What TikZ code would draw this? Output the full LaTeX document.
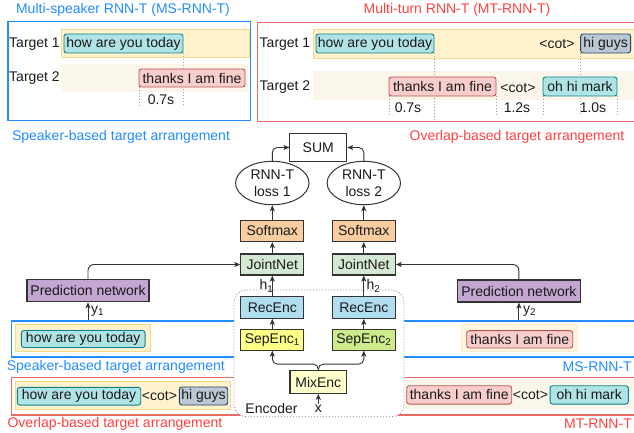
\documentclass[tikz,border=0pt]{standalone}
\usepackage{fontspec}
\setmainfont{Liberation Sans}
\usetikzlibrary{arrows.meta,shapes.geometric}
\definecolor{msblue}{RGB}{34,140,255}
\definecolor{mtred}{RGB}{255,64,64}
\definecolor{mtframe}{RGB}{234,107,102}
\definecolor{txt}{RGB}{26,26,26}
\definecolor{boxline}{RGB}{51,51,51}
\definecolor{bandfill}{HTML}{FFF2CC}
\definecolor{bandline}{HTML}{F3D88E}
\definecolor{bandlight}{HTML}{FAF6EA}
\definecolor{tealfill}{HTML}{B0E3E6}
\definecolor{tealline}{HTML}{0E8088}
\definecolor{redfill}{HTML}{F8CECC}
\definecolor{redline}{HTML}{B85450}
\definecolor{grayfill}{HTML}{BAC8D3}
\definecolor{grayline}{HTML}{23445D}
\definecolor{purplefill}{RGB}{196,166,210}
\definecolor{orangefill}{RGB}{250,205,160}
\definecolor{greenfill}{HTML}{D5E8D4}
\definecolor{bluefill}{HTML}{B1DDF0}
\definecolor{yellowfill}{HTML}{FFFF88}
\definecolor{limefill}{HTML}{CDEB8B}
\definecolor{paleyellow}{HTML}{FFFFCC}
\begin{document}
\begin{tikzpicture}[x=1pt,y=-1pt,
  font=\fontsize{14}{17}\selectfont, text=txt,
  every node/.style={inner sep=1pt},
  frameblue/.style={draw=msblue, line width=1.5pt, inner sep=0pt},
  framered/.style={draw=mtframe, line width=1.5pt, inner sep=0pt},
  bandA/.style={fill=bandfill, draw=bandline, line width=0.8pt, inner sep=0pt},
  bandB/.style={fill=bandlight, inner sep=0pt},
  tealbox/.style={fill=tealfill, draw=tealline, line width=0.9pt, rounded corners=2.5pt, inner sep=0pt},
  redbox/.style={fill=redfill, draw=redline, line width=0.9pt, rounded corners=2.5pt, inner sep=0pt},
  graybox/.style={fill=grayfill, draw=grayline, line width=0.9pt, rounded corners=2.5pt, inner sep=0pt},
  blk/.style={draw=boxline, line width=1.1pt, inner sep=0pt, minimum width=63pt, minimum height=21.5pt},
  dotl/.style={draw=gray!80, line width=0.8pt, dash pattern=on 1pt off 2pt},
  arr/.style={draw=boxline, line width=0.9pt, -{Stealth[length=6pt,width=5pt,inset=1.5pt]}},
  bluetxt/.style={text=msblue},
  redtxt/.style={text=mtred}
]
\useasboundingbox (0,0) rectangle (634,433);
\clip (0,0) rectangle (634,433);

% ---------------- top left: MS-RNN-T ----------------
\node[bluetxt] (mstitle) at (123,9.5) {Multi-speaker RNN-T (MS-RNN-T)};
\node[frameblue, minimum width=242.7pt, minimum height=99pt] (msframe) at (129.35,71.2) {};
\node[bandA, minimum width=188pt, minimum height=28pt] (msband1) at (155,43) {};
\node[bandB, minimum width=188pt, minimum height=28pt] (msband2) at (155,78) {};
\node (mstgt1) at (34.5,44) {Target 1};
\node (mstgt2) at (34.5,78) {Target 2};
\coordinate (msdy) at (0,107);
\coordinate (msax) at (183,53);
\coordinate (msbx) at (139,87);
\draw[dotl] (msax) -- (msax |- msdy);
\draw[dotl] (msbx) -- (msbx |- msdy);
\node[tealbox, minimum width=119pt, minimum height=19pt] (msa) at (123.5,43.5) {how are you today};
\node[redbox, minimum width=106pt, minimum height=18pt] (msb) at (192,78) {thanks I am fine};
\node (mst07) at (161,100) {0.7s};
\node[bluetxt] (mscap) at (121,137) {Speaker-based target arrangement};

% ---------------- top right: MT-RNN-T ----------------
\node[redtxt] (mttitle) at (457,9.5) {Multi-turn RNN-T (MT-RNN-T)};
\node[framered, anchor=north west, minimum width=400pt, minimum height=98.7pt] (mtframe) at (256.7,22) {};
\node[bandA, anchor=north west, minimum width=340pt, minimum height=29pt] (mtband1) at (313,29) {};
\node[bandB, anchor=north west, minimum width=340pt, minimum height=29pt] (mtband2) at (313,71) {};
\node (mttgt1) at (285,44) {Target 1};
\node (mttgt2) at (285,87) {Target 2};
\coordinate (mtdy) at (0,115);
\coordinate (mtdz) at (0,120);
\coordinate (mtx1) at (434,53);
\coordinate (mtx2) at (580.6,53);
\coordinate (mtx3) at (389,96);
\coordinate (mtx4) at (496,96);
\coordinate (mtx5) at (543,96);
\coordinate (mtx6) at (617,96);
\draw[dotl] (mtx1) -- (mtx1 |- mtdz);
\draw[dotl] (mtx2) -- (mtx2 |- mtdy);
\draw[dotl] (mtx3) -- (mtx3 |- mtdy);
\draw[dotl] (mtx4) -- (mtx4 |- mtdy);
\draw[dotl] (mtx5) -- (mtx5 |- mtdy);
\draw[dotl] (mtx6) -- (mtx6 |- mtdy);
\node[tealbox, minimum width=118pt, minimum height=19pt] (mta) at (375,43.5) {how are you today};
\node (mtcot1) at (557,44) {<cot>};
\node[graybox, minimum width=50pt, minimum height=19pt] (mtc) at (605.6,43.5) {hi guys};
\node[redbox, minimum width=107pt, minimum height=19pt] (mtb) at (442.5,86.5) {thanks I am fine};
\node (mtcot2) at (518,88) {<cot>};
\node[tealbox, minimum width=74pt, minimum height=19pt] (mtd) at (580,86.5) {oh hi mark};
\node (mt07) at (408,108) {0.7s};
\node (mt12) at (517,108) {1.2s};
\node (mt10) at (593,108) {1.0s};
\node[redtxt] (mtcap) at (517,137) {Overlap-based target arrangement};

% ---------------- bottom target bands ----------------
\node[frameblue, anchor=north west, minimum width=640pt, minimum height=36pt] (msbot) at (10.7,320) {};
\node[bandA, minimum width=135pt, minimum height=27pt] (msbotband1) at (82.5,337.5) {};
\node[tealbox, minimum width=123.7pt, minimum height=17pt] (msbota) at (83.2,339) {how are you today};
\node[bandA, fill=bandfill!60, draw=bandline!50, minimum width=116pt, minimum height=27.7pt] (msbotband2) at (519.7,337.8) {};
\node[redbox, minimum width=106pt, minimum height=17.3pt] (msbotb) at (519.7,339.3) {thanks I am fine};
\node[bluetxt] (msbotcap) at (115.8,366.7) {Speaker-based target arrangement};
\node[bluetxt, anchor=east] (msbotname) at (633,366.7) {MS-RNN-T};

\node[framered, anchor=north west, minimum width=640pt, minimum height=37.3pt] (mtbot) at (10.7,376.7) {};
\node[bandA, minimum width=215.7pt, minimum height=28.3pt] (mtbotband1) at (122.8,395.2) {};
\node[tealbox, minimum width=123.4pt, minimum height=17.7pt] (mtbota) at (79,396.2) {how are you today};
\node (mtbotcot1) at (159.5,396) {<cot>};
\node[graybox, minimum width=48.4pt, minimum height=18pt] (mtbotc) at (203.5,396) {hi guys};
\node[bandB, anchor=north west, minimum width=240pt, minimum height=28.3pt] (mtbotband2) at (405,380) {};
\node[redbox, minimum width=105pt, minimum height=18.3pt] (mtbotb) at (459.2,394.9) {thanks I am fine};
\node (mtbotcot2) at (530.5,395) {<cot>};
\node[tealbox, minimum width=78.3pt, minimum height=18.3pt] (mtbotd) at (589.2,394.9) {oh hi mark};
\node[redtxt] (mtbotcap) at (115,424) {Overlap-based target arrangement};
\node[redtxt, anchor=east] (mtbotname) at (633,424) {MT-RNN-T};

% ---------------- encoder ----------------
\node[draw=gray!90, fill=white, line width=0.8pt, dash pattern=on 1pt off 2pt, rounded corners=12pt,
      minimum width=170pt, minimum height=126.7pt, inner sep=0pt] (enc) at (319,353.35) {};
\node (enclbl) at (271.5,408) {Encoder};
\node[blk, fill=bluefill] (rec1) at (272.3,307.5) {RecEnc};
\node[blk, fill=bluefill] (rec2) at (363.8,307.5) {RecEnc};
\node[blk, fill=yellowfill, minimum height=20.7pt] (sep1) at (272.3,339.7) {SepEnc\textsubscript{1}};
\node[blk, fill=limefill, minimum height=20.7pt] (sep2) at (363.8,339.7) {SepEnc\textsubscript{2}};
\node[blk, fill=paleyellow, minimum width=56.7pt, minimum height=22.6pt] (mix) at (318.3,382) {MixEnc};
\node (xin) at (318.3,409) {x};

% ---------------- upper network ----------------
\node[blk, fill=greenfill, minimum height=21pt] (joint1) at (272.3,264.5) {JointNet};
\node[blk, fill=greenfill, minimum height=21pt] (joint2) at (363.8,264.5) {JointNet};
\node[blk, fill=orangefill] (soft1) at (272.3,230.8) {Softmax};
\node[blk, fill=orangefill] (soft2) at (363.8,230.8) {Softmax};
\node[ellipse, draw=boxline, line width=1pt, inner sep=0pt, align=center,
      minimum width=73.4pt, minimum height=43.4pt] (loss1) at (272.3,183) {RNN-T\\loss 1};
\node[ellipse, draw=boxline, line width=1pt, inner sep=0pt, align=center,
      minimum width=73.4pt, minimum height=43.4pt] (loss2) at (363.8,183) {RNN-T\\loss 2};
\node[draw=boxline, line width=1pt, inner sep=0pt, minimum width=56.7pt, minimum height=28.4pt] (sum) at (318.3,147.5) {SUM};
\node[blk, fill=purplefill, minimum width=122pt, minimum height=22.4pt] (pred1) at (88,290.5) {Prediction network};
\node[blk, fill=purplefill, minimum width=122.3pt, minimum height=22pt] (pred2) at (518.9,291) {Prediction network};

% ---------------- connectors ----------------
\draw[arr] (xin.north) -- (mix.south);
\draw[arr, rounded corners=5pt] (mix.north) -- ++(0,-6) -| (sep1.south);
\draw[arr, rounded corners=5pt] (mix.north) -- ++(0,-6) -| (sep2.south);
\draw[arr] (sep1.north) -- (rec1.south);
\draw[arr] (sep2.north) -- (rec2.south);
\draw[arr] (rec1.north) -- (joint1.south);
\draw[arr] (rec2.north) -- (joint2.south);
\node[anchor=east, inner sep=0pt] (h1) at (273.5,286) {h\textsubscript{1}};
\node[anchor=west, inner sep=0pt] (h2) at (366.5,286) {h\textsubscript{2}};
\draw[arr] (joint1.north) -- (soft1.south);
\draw[arr] (joint2.north) -- (soft2.south);
\draw[arr] (soft1.north) -- (loss1.south);
\draw[arr] (soft2.north) -- (loss2.south);
\draw[arr, rounded corners=5pt] (loss1.north) |- (sum.west);
\draw[arr, rounded corners=5pt] (loss2.north) |- (sum.east);
\draw[arr, rounded corners=6pt] (pred1.north) |- (joint1.west);
\draw[arr, rounded corners=6pt] (pred2.north) |- (joint2.east);
\coordinate (y1in) at (88,320);
\coordinate (y2in) at (518.9,320);
\draw[arr] (y1in) -- (pred1.south);
\draw[arr] (y2in) -- (pred2.south);
\node[anchor=west, inner sep=0pt] (y1) at (91,311) {y\textsubscript{1}};
\node[anchor=west, inner sep=0pt] (y2) at (523,311) {y\textsubscript{2}};
\end{tikzpicture}
\end{document}
